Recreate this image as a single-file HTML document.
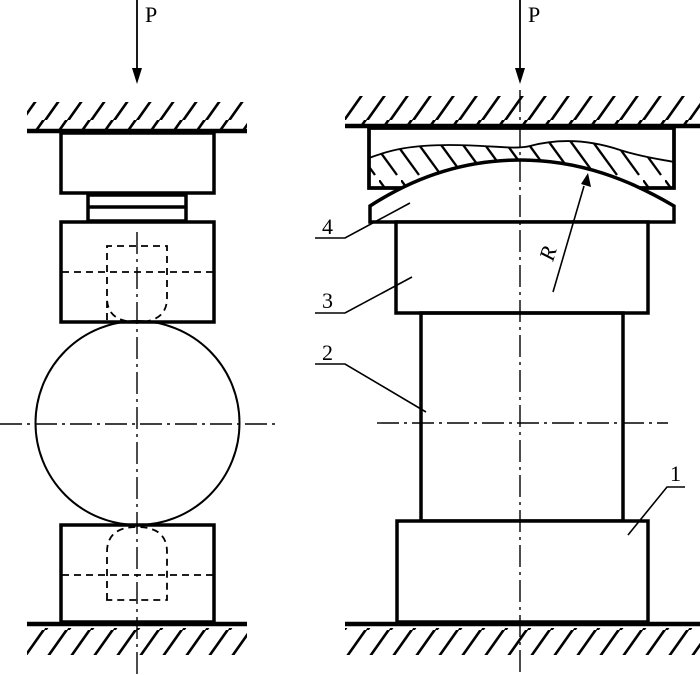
<!DOCTYPE html>
<html><head><meta charset="utf-8"><style>html,body{margin:0;padding:0;background:#fff}svg{display:block}</style></head>
<body>
<svg width="700" height="675" viewBox="0 0 700 675" xmlns="http://www.w3.org/2000/svg" font-family="Liberation Serif, serif">
<defs>
<pattern id="g" patternUnits="userSpaceOnUse" width="23" height="30">
<line x1="-2" y1="32" x2="22" y2="-2" stroke="#000" stroke-width="2.6"/>
<line x1="21" y1="32" x2="45" y2="-2" stroke="#000" stroke-width="2.6"/>
</pattern>
<pattern id="h" patternUnits="userSpaceOnUse" width="22" height="60" patternTransform="translate(5,0)">
<line x1="0" y1="0" x2="40" y2="55" stroke="#000" stroke-width="2.3"/>
<line x1="-22" y1="0" x2="18" y2="55" stroke="#000" stroke-width="2.3"/>
</pattern>
</defs>
<g fill="none" stroke="#000">
<rect x="27" y="102" width="220" height="27" fill="url(#g)" stroke="none"/>
<rect x="27" y="628" width="220" height="27" fill="url(#g)" stroke="none"/>
<rect x="345" y="96" width="355" height="28" fill="url(#g)" stroke="none"/>
<rect x="345" y="628" width="355" height="27" fill="url(#g)" stroke="none"/>
<line x1="27" y1="131" x2="247" y2="131" stroke-width="4.5"/>
<line x1="27" y1="624" x2="247" y2="624" stroke-width="4.5"/>
<line x1="345" y1="126" x2="700" y2="126" stroke-width="4.5"/>
<line x1="345" y1="624" x2="700" y2="624" stroke-width="4.5"/>

<rect x="61" y="133" width="153" height="60" stroke-width="3.5"/>
<rect x="88" y="195" width="98" height="26" stroke-width="3.5"/>
<line x1="88" y1="207" x2="186" y2="207" stroke-width="3.5"/>
<rect x="61" y="222" width="153" height="100" stroke-width="3.5"/>
<rect x="61" y="525" width="153" height="97" stroke-width="3.5"/>
<circle cx="137.5" cy="423" r="102" stroke-width="2"/>
<g stroke-width="1.8" stroke-dasharray="7,5">
<path d="M107,320 L107,246 L167,246 L167,298 Q167,322 137,322 Q107,322 107,298"/>
<line x1="62" y1="272" x2="213" y2="272"/>
<path d="M107,600 L107,552 Q107,527 137,527 Q167,527 167,552 L167,600 Z"/>
<line x1="62" y1="575" x2="213" y2="575"/>
</g>

<rect x="369" y="128" width="305" height="60" stroke-width="3.5" fill="#fff"/>
<path d="M369,158 C390,150 410,145 450,145 C490,145 515,150 530,146 C560,138 590,140 620,150 C645,158 665,160 674,162 L674,188 L369,188 Z" fill="url(#h)" stroke="none"/>
<path d="M369,158 C390,150 410,145 450,145 C490,145 515,150 530,146 C560,138 590,140 620,150 C645,158 665,160 674,162" stroke-width="1.8"/>
<rect x="369" y="128" width="305" height="60" stroke-width="3.5"/>
<path d="M370,222 L370,206 C410,180 460,160 520,160 C580,160 630,180 674,206 L674,222 Z" fill="#fff" stroke-width="3.5"/>
<rect x="396" y="222" width="252" height="91" stroke-width="3.5" fill="#fff"/>
<rect x="421" y="313" width="202" height="208" stroke-width="3.5"/>
<rect x="397" y="521" width="251" height="101" stroke-width="3.5" fill="#fff"/>

<g stroke-width="1.4" stroke-dasharray="22,5,3,5">
<line x1="137" y1="232" x2="137" y2="675"/>
<line x1="520" y1="90" x2="520" y2="675"/>
<line x1="0" y1="424" x2="276" y2="424"/>
<line x1="377" y1="423" x2="668" y2="423"/>
</g>
<line x1="137" y1="0" x2="137" y2="70" stroke-width="1.8"/>
<line x1="520" y1="0" x2="520" y2="70" stroke-width="1.8"/>
<g stroke-width="1.6">
<polyline points="315,238 345,238 410,203"/>
<polyline points="315,313 345,313 412,277"/>
<polyline points="315,364 345,364 426,412"/>
<polyline points="628,535 667,487 685,487"/>
<line x1="553" y1="292" x2="584" y2="186"/>
</g>
</g>
<polygon points="132,68 142,68 137,84" fill="#000"/>
<polygon points="515,68 525,68 520,84" fill="#000"/>
<polygon points="581,184 591,187 588,173" fill="#000"/>
<g font-size="22" fill="#000">
<text x="145" y="22">P</text>
<text x="528" y="22">P</text>
<text x="322" y="234">4</text>
<text x="322" y="308">3</text>
<text x="322" y="360">2</text>
<text x="670" y="481">1</text>
<text x="0" y="0" font-style="italic" transform="translate(553,262) rotate(-73)">R</text>
</g>
</svg>
</body></html>
